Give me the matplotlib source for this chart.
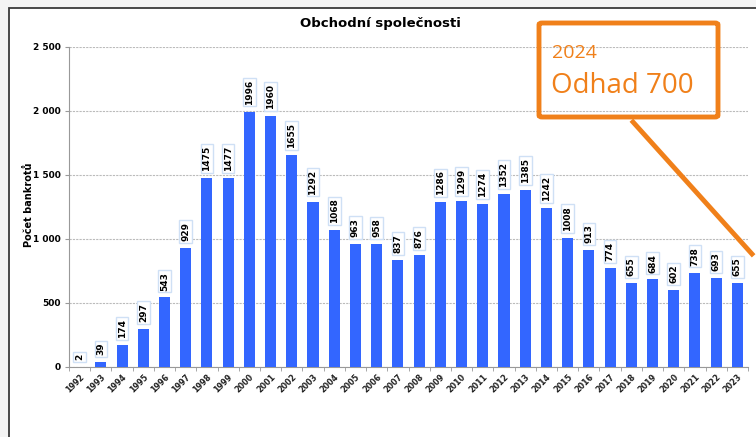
import matplotlib.pyplot as plt
import numpy as np
from matplotlib.patches import Rectangle, FancyBboxPatch
from matplotlib.lines import Line2D

years = [str(y) for y in range(1992, 2024)]
counts = [2, 39, 174, 297, 543, 929, 1475, 1477, 1996, 1960, 1655, 1292, 1068, 963,
          958, 837, 876, 1286, 1299, 1274, 1352, 1385, 1242, 1008, 913, 774, 655,
          684, 602, 738, 693, 655]
yticks = [0, 500, 1000, 1500, 2000, 2500]
ytick_labels = ['0', '500', '1 000', '1 500', '2 000', '2 500']

W, H = 756, 437
fig = plt.figure(figsize=(W / 100, H / 100), dpi=100)
fig.patch.set_facecolor('#f4f4f4')

# white panel of the screenshot
fig.add_artist(Rectangle((9 / W, -0.05), 1.0, 1 - 8 / H + 0.05, transform=fig.transFigure,
                         facecolor='white', edgecolor='#3a3a3a', linewidth=1.3, zorder=0))

ax = fig.add_axes([69 / W, 1 - 367 / H, 679 / W, 320 / H])
ax.set_facecolor('none')
x = np.arange(len(years))
ax.bar(x, counts, width=0.52, color='#3366ff', zorder=3)

for xi, v in zip(x, counts):
    ax.annotate(str(v), (xi, v), xytext=(0, 5), textcoords='offset points',
                rotation=90, ha='center', va='bottom', fontsize=6.5, fontweight='bold',
                bbox=dict(boxstyle='square,pad=0.2', facecolor='white', edgecolor='#cfe0f5', lw=1),
                zorder=4)

ax.set_xlim(-0.5, len(years) - 0.5)
ax.set_ylim(0, 2500)
ax.set_yticks(yticks)
ax.set_yticklabels(ytick_labels, fontsize=6.5, fontweight='bold')
ax.set_xticks(x)
ax.set_xticklabels(years, rotation=45, ha='right', rotation_mode='anchor',
                   fontsize=5.8, fontweight='bold', color='#222222')
ax.set_xticks(np.arange(-0.5, len(years)), minor=True)
ax.tick_params(axis='x', which='major', length=0, pad=4)
ax.tick_params(axis='x', which='minor', length=3, color='#999999')
ax.tick_params(axis='y', length=3, color='#999999', pad=3)
ax.grid(axis='y', color='#bbbbbb', linestyle=(0, (2, 1)), linewidth=0.8, zorder=1)
for s in ['top', 'right']:
    ax.spines[s].set_visible(False)
for s in ['left', 'bottom']:
    ax.spines[s].set_color('#999999')

fig.text(380 / W, 1 - 23 / H, 'Obchodní společnosti', ha='center', va='center',
         fontsize=9.5, fontweight='bold')
fig.text(29 / W, 1 - 205 / H, 'Počet bankrotů', ha='center', va='center',
         rotation=90, fontsize=7, fontweight='bold')

# orange callout
orange = '#f0801a'
fig.add_artist(FancyBboxPatch((539 / W, 1 - 117 / H), 179 / W, 94 / H,
                              boxstyle='round,pad=0,rounding_size=0.004',
                              transform=fig.transFigure, facecolor='none',
                              edgecolor=orange, linewidth=3.5, zorder=5))
fig.add_artist(Line2D([633 / W, 752 / W], [1 - 122 / H, 1 - 254 / H],
                      transform=fig.transFigure, color=orange, linewidth=3.5, zorder=5))
fig.text(552 / W, 1 - 53 / H, '2024', ha='left', va='center', fontsize=14,
         color=orange, family='Open Sans')
fig.text(551 / W, 1 - 86 / H, 'Odhad 700', ha='left', va='center', fontsize=20,
         color=orange, family='Open Sans')

fig.savefig('out.png', dpi=100, facecolor=fig.get_facecolor())
